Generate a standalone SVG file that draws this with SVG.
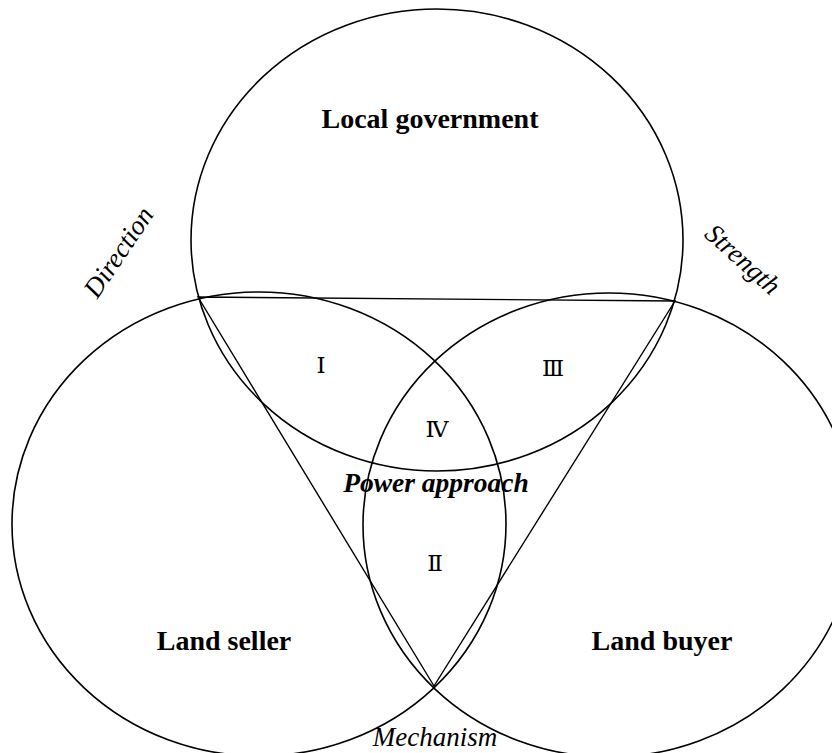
<svg xmlns="http://www.w3.org/2000/svg" width="832" height="753" viewBox="0 0 832 753">
<style>
.c{fill:none;stroke:#000;stroke-width:1.6}
.l{fill:none;stroke:#000;stroke-width:1.4}
.t{font-family:"Liberation Serif","Times New Roman",serif;fill:#000;text-anchor:middle}
.b{font-weight:bold;font-size:28px}
.i{font-style:italic;font-size:27px}
.n{font-family:"Liberation Serif","DejaVu Serif","Noto Sans CJK SC",serif;font-size:23px}
</style>
<rect width="832" height="753" fill="#fff"/>
<g id="connectors">
<polygon class="l" points="198,297 675,301 434,686"/>
</g>
<g id="local-government">
<ellipse class="c" cx="437" cy="240" rx="246" ry="231"/>
<text class="t b" x="430" y="128">Local government</text>
</g>
<g id="land-seller">
<ellipse class="c" cx="259" cy="524" rx="247" ry="232"/>
<text class="t b" x="224" y="650">Land seller</text>
</g>
<g id="land-buyer">
<ellipse class="c" cx="609" cy="525" rx="246" ry="232"/>
<text class="t b" x="662" y="650">Land buyer</text>
</g>
<g id="regions">
<text class="t n" x="321" y="373">Ⅰ</text>
<text class="t n" x="553" y="376">Ⅲ</text>
<text class="t n" x="437" y="437">Ⅳ</text>
<text class="t n" x="435" y="571">Ⅱ</text>
<text class="t" x="436" y="492" style="font-weight:bold;font-style:italic;font-size:27.5px">Power approach</text>
</g>
<g id="labels">
<text class="t i" transform="translate(126,257) rotate(-56)">Direction</text>
<text class="t i" transform="translate(737,266) rotate(42)">Strength</text>
<text class="t i" x="435" y="746">Mechanism</text>
</g>
</svg>
